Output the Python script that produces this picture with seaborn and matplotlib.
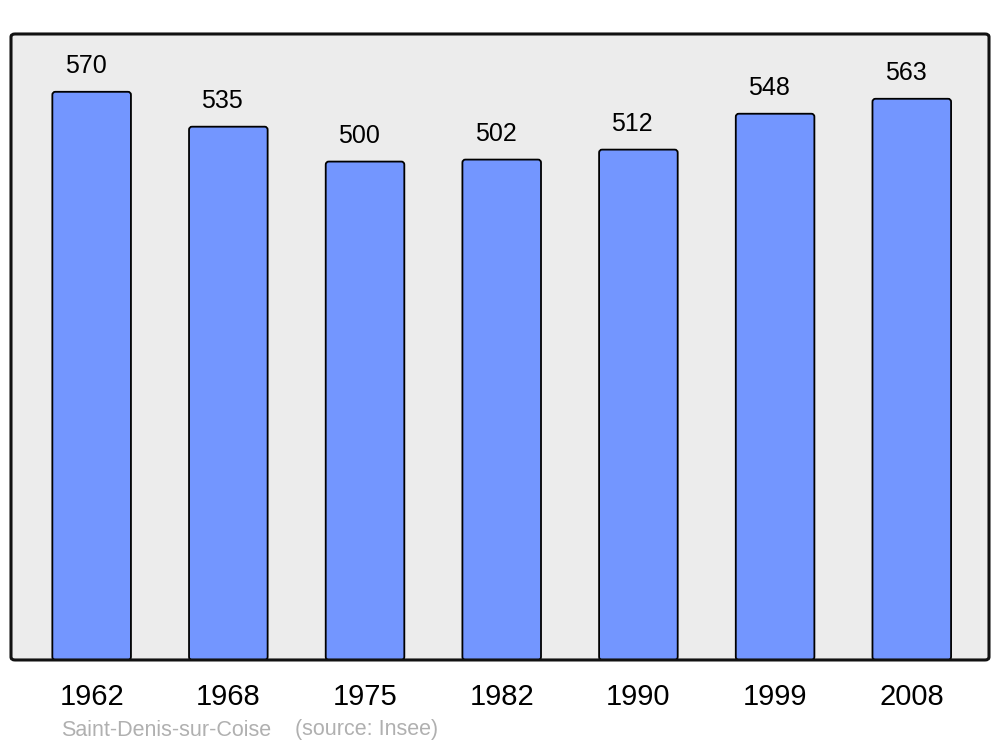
import matplotlib
matplotlib.use("Agg")
import matplotlib.pyplot as plt
import seaborn as sns
import pandas as pd
from matplotlib.patches import FancyBboxPatch

years = ["1962", "1968", "1975", "1982", "1990", "1999", "2008"]
population = [570, 535, 500, 502, 512, 548, 563]
town = "Saint-Denis-sur-Coise"
source = "(source: Insee)"

sns.set_theme(style="white")
plt.rcParams['font.family'] = ['Liberation Sans', 'DejaVu Sans']

df = pd.DataFrame({"year": years, "pop": population})

fig = plt.figure(figsize=(10, 7.47), dpi=100)
ax = fig.add_axes([0.011, 0.1165, 0.978, 0.838])
ax.set_facecolor("#ececec")

sns.barplot(data=df, x="year", y="pop", ax=ax, color="#7396ff", saturation=1,
            width=0.575, edgecolor="black", linewidth=1.3)

# replace bars with slightly rounded versions
for p in list(ax.patches):
    x, y = p.get_x(), p.get_y()
    w, h = p.get_width(), p.get_height()
    fb = FancyBboxPatch((x, y), w, h, boxstyle="round,pad=0,rounding_size=0.022",
                        mutation_aspect=140, facecolor="#7396ff", edgecolor="black",
                        linewidth=1.3, zorder=2)
    p.remove()
    ax.add_patch(fb)

ax.set_xlim(-0.59, 6.565)
ax.set_ylim(0, 628)

for i, v in enumerate(population):
    ax.text(i - 0.045, v + 26, str(v), ha="center", va="center", fontsize=18, color="black")

ax.set_xlabel("")
ax.set_ylabel("")
ax.set_yticks([])
ax.tick_params(axis="x", length=0, labelsize=21, pad=16.5, colors="black")
for s in ax.spines.values():
    s.set_visible(False)

frame2 = FancyBboxPatch((0.011, 0.1165), 0.978, 0.838,
                        boxstyle="round,pad=0,rounding_size=0.004",
                        transform=fig.transFigure, facecolor="none",
                        edgecolor="#111111", linewidth=2.2, zorder=10)
fig.add_artist(frame2)

fig.text(0.061, 1 - 730 / 747, town, ha="left", va="center", fontsize=15.5, color="#b0b0b0")
fig.text(0.295, 1 - 730 / 747, source, ha="left", va="center", fontsize=15.5, color="#b0b0b0")

fig.savefig("out.png", dpi=100)
